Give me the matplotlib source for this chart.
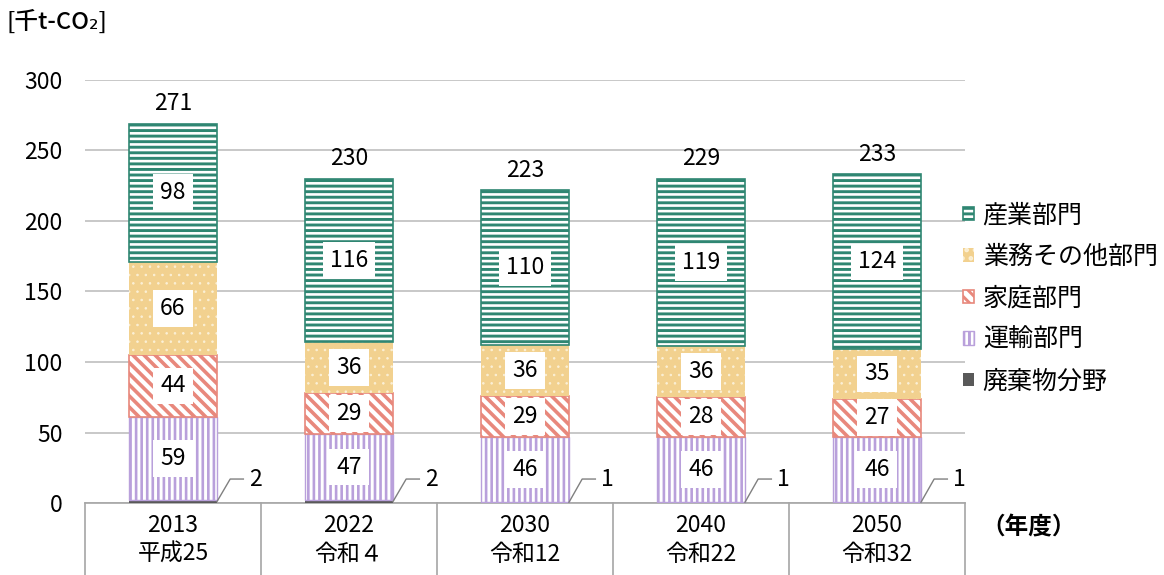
import numpy as np
import matplotlib.pyplot as plt

plt.rcParams['font.family'] = ['Noto Sans CJK JP', 'DejaVu Sans']

# 年度ごとの部門別排出量 [千t-CO2]
years = ['2013', '2022', '2030', '2040', '2050']
eras = ['平成25', '令和４', '令和12', '令和22', '令和32']
waste = [2, 2, 1, 1, 1]
transport = [59, 47, 46, 46, 46]
household = [44, 29, 29, 28, 27]
business = [66, 36, 36, 36, 35]
industry = [98, 116, 110, 119, 124]
totals = [271, 230, 223, 229, 233]

fig = plt.figure(figsize=(11.64, 5.75), dpi=100)
ax = fig.add_axes([0.073, 0.1252, 0.756, 0.7357])

x = np.arange(len(years))
w = 0.5
fs = 16.5

# 積み上げの順番: 下から廃棄物, 運輸, 家庭, 業務, 産業
series = [
    ('廃棄物分野', waste, dict(color='#595959', edgecolor='#595959', lw=0)),
    ('運輸部門', transport, dict(facecolor='white', edgecolor='#b9a0db', hatch='|||', lw=1.0, hlw=1.9)),
    ('家庭部門', household, dict(facecolor='white', edgecolor='#e8887c', hatch='\\\\\\', lw=1.2, hlw=2.6)),
    ('業務その他部門', business, dict(facecolor='#f2d18f', edgecolor='#fbf0d6', hatch='..', lw=0, hlw=0.6)),
    ('産業部門', industry, dict(facecolor='white', edgecolor='#2f8672', hatch='---', lw=1.2, hlw=2.1)),
]

bottom = np.zeros(len(years))
handles = {}
for name, vals, st in series:
    vals = np.array(vals, dtype=float)
    st = dict(st)
    hlw = st.pop('hlw', 1.0)
    lw = st.pop('lw')
    plt.rcParams['hatch.linewidth'] = hlw
    bars = ax.bar(x, vals, w, bottom=bottom, linewidth=lw, zorder=3, **st)
    for b in bars:
        if hasattr(b, 'set_hatch_linewidth'):
            b.set_hatch_linewidth(hlw)
    handles[name] = bars
    if name != '廃棄物分野':
        for xi, v, b0 in zip(x, vals, bottom):
            ax.text(xi, b0 + v / 2, f'{v:.0f}', ha='center', va='center', fontsize=fs,
                    zorder=5, bbox=dict(boxstyle='square,pad=0.3', fc='white', ec='none'))
    bottom += vals

# 廃棄物分野は引き出し線で表示
for xi, v in zip(x, waste):
    lx = [xi + w / 2, xi + 0.325, xi + 0.40]
    ly = [v / 2, 17, 17]
    ax.plot(lx, ly, color='#808080', lw=1.0, zorder=4, clip_on=False)
    ax.text(xi + 0.43, 17, str(v), ha='left', va='center', fontsize=fs)

# 合計値
for xi, top, t in zip(x, bottom, totals):
    ax.annotate(str(t), (xi, top), xytext=(0, 6), textcoords='offset points',
                ha='center', va='bottom', fontsize=fs)

ax.set_xlim(-0.5, len(years) - 0.5)
ax.set_ylim(0, 300)
ax.set_yticks(range(0, 301, 50))
ax.tick_params(axis='y', length=0, pad=16, labelsize=fs)
ax.tick_params(axis='x', length=0, labelbottom=False)
ax.grid(axis='y', color='#bfbfbf', lw=1.2, zorder=0)
for s in ax.spines.values():
    s.set_visible(False)

# 下の年度表
tr = ax.get_xaxis_transform()
ax.plot([-0.5, len(years) - 0.5], [0, 0], color='#a6a6a6', lw=1.2, transform=tr, clip_on=False)
for b in np.arange(-0.5, len(years), 1.0):
    ax.plot([b, b], [0, -0.2], color='#a6a6a6', lw=1.2, transform=tr, clip_on=False)
for xi, yr, era in zip(x, years, eras):
    ax.text(xi, -0.053, yr, ha='center', va='center', fontsize=fs, transform=tr)
    ax.text(xi, -0.122, era, ha='center', va='center', fontsize=fs, transform=tr)

fig.text(0.843, 0.083, '（年度）', ha='left', va='center', fontsize=17, fontweight='bold')
fig.text(0.006, 0.962, '[千t-CO₂]', ha='left', va='center', fontsize=17, fontweight='medium')

order = ['産業部門', '業務その他部門', '家庭部門', '運輸部門', '廃棄物分野']
fig.legend([handles[n] for n in order], order, loc='upper left',
           bbox_to_anchor=(0.827, 0.648), frameon=False, fontsize=18,
           borderaxespad=0, borderpad=0,
           handlelength=0.45, handleheight=0.45, handletextpad=0.35, labelspacing=0.62)

fig.savefig('out.png', dpi=100)
